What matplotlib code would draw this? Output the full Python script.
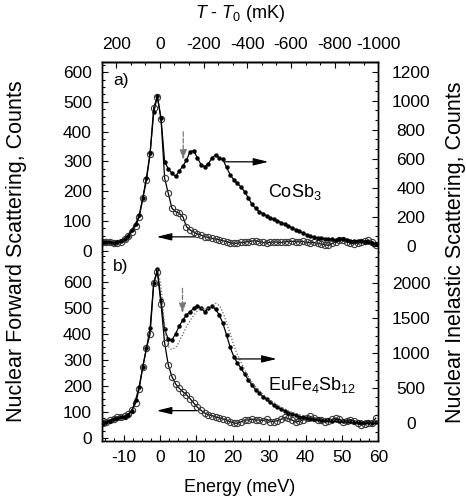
import matplotlib
matplotlib.use("Agg")
import matplotlib.pyplot as plt
from matplotlib.ticker import AutoMinorLocator

plt.rcParams['font.family'] = ['Liberation Sans', 'DejaVu Sans']
plt.rcParams['mathtext.fontset'] = 'custom'
plt.rcParams['mathtext.rm'] = 'Liberation Sans'
plt.rcParams['mathtext.it'] = 'Liberation Sans:italic'
plt.rcParams['axes.unicode_minus'] = False

# energy grid of the scan (meV)
energy = [-15.7, -14.7, -13.7, -12.7, -11.7, -10.7, -9.7, -8.7, -7.7, -6.7,
          -5.7, -4.7, -3.7, -2.7, -1.7, -0.7, 0.3, 1.3, 2.3, 3.3,
          4.3, 5.3, 6.3, 7.3, 8.3, 9.3, 10.3, 11.3, 12.3, 13.3,
          14.3, 15.3, 16.3, 17.3, 18.3, 19.3, 20.3, 21.3, 22.3, 23.3,
          24.3, 25.3, 26.3, 27.3, 28.3, 29.3, 30.3, 31.3, 32.3, 33.3,
          34.3, 35.3, 36.3, 37.3, 38.3, 39.3, 40.3, 41.3, 42.3, 43.3,
          44.3, 45.3, 46.3, 47.3, 48.3, 49.3, 50.3, 51.3, 52.3, 53.3,
          54.3, 55.3, 56.3, 57.3, 58.3, 59.3]

# a) CoSb3
cosb3_nfs = [30, 29, 28, 25, 25, 30, 38, 50, 62, 83,
             112, 175, 237, 324, 481, 517, 442, 243, 192, 142,
             131, 125, 114, 80, 69, 63, 55, 52, 47, 44,
             41, 38, 36, 33, 30, 26, 24, 25, 27, 28,
             30, 32, 33, 30, 27, 26, 27, 29, 28, 27,
             29, 30, 31, 30, 29, 31, 27, 26, 27, 24,
             22, 20, 17, 24, 30, 34, 36, 30, 25, 22,
             26, 30, 33, 35, 30, 18]
cosb3_nis = [28, 26, 24, 22, 24, 35, 50, 70, 110, 150,
             210, 330, 470, 640, 920, 1030, 880, 580, 530, 500,
             478, 515, 550, 590, 650, 655, 605, 560, 545, 565,
             605, 628, 605, 595, 540, 490, 455, 430, 405, 372,
             330, 285, 258, 235, 222, 205, 192, 182, 172, 160,
             148, 135, 124, 112, 100, 88, 76, 66, 58, 54,
             52, 50, 48, 44, 40, 44, 46, 38, 36, 35,
             34, 30, 28, 25, 22, 12]

# b) EuFe4Sb12
eufe_nfs = [55, 62, 68, 73, 78, 80, 82, 92, 105, 132,
            187, 273, 344, 398, 594, 638, 513, 363, 280, 235,
            207, 190, 177, 165, 150, 133, 117, 105, 95, 88,
            85, 79, 76, 72, 68, 61, 57, 55, 61, 68,
            68, 71, 68, 68, 66, 71, 62, 62, 66, 71,
            78, 74, 68, 60, 63, 68, 74, 82, 74, 68,
            68, 62, 64, 71, 74, 71, 62, 64, 68, 64,
            57, 48, 53, 57, 58, 75]
eufe_nis = [0, 20, 35, 55, 71, 85, 95, 120, 180, 330,
            523, 809, 1071, 1357, 2000, 2200, 1760, 1340, 1200, 1190,
            1276, 1390, 1476, 1547, 1594, 1643, 1676, 1643, 1594, 1643,
            1676, 1628, 1547, 1428, 1262, 1086, 952, 857, 786, 700,
            620, 545, 480, 430, 381, 343, 300, 262, 229, 200,
            176, 152, 133, 114, 95, 86, 71, 65, 60, 55,
            50, 45, 42, 38, 40, 35, 32, 30, 28, 25,
            20, 22, 15, 12, 10, 18]

# calculated spectrum (dotted)
calc_energy = [-0.7, 0.0, 0.5, 1.0, 1.5, 2.0, 2.5, 3.0, 3.5, 4.0, 4.6, 5.3, 6.0,
               7.3, 8.7, 10.1, 11.4, 12.8, 14.2, 15.4, 16.5, 17.6, 18.8, 20.0,
               21.1, 22.0, 23.0, 24.0, 25.0, 26.0, 28.0, 30.0, 32.0, 34.0,
               36.0, 38.0, 40.0, 42.0, 44.0, 46.0, 48.0, 50.0, 52.0, 54.0,
               56.0, 58.0, 60.0]
eufe_calc = [2200, 2050, 1860, 1550, 1300, 1150, 1080, 1060, 1060, 1075, 1100, 1170, 1238,
             1381, 1500, 1595, 1643, 1628, 1676, 1714, 1676, 1547, 1357, 1166,
             1000, 904, 790, 690, 610, 540, 430, 340, 270, 210,
             165, 130, 100, 80, 62, 50, 42, 35, 30, 26,
             22, 20, 18]

mk_ticks = [200, 0, -200, -400, -600, -800, -1000]
mev_per_mk = -0.06

fs = 12.5

fig = plt.figure(figsize=(4.66, 5.01), dpi=100)
ax_a = fig.add_axes([0.2182, 0.497, 0.5936, 0.3792])
ax_b = fig.add_axes([0.2182, 0.1204, 0.5936, 0.3766])
ax_a2 = ax_a.twinx()
ax_b2 = ax_b.twinx()

circ = dict(color='black', lw=0.9, marker='o', ms=4.5, mfc='none', mec='#3a3a3a', mew=0.8)
dots = dict(color='black', lw=0.9, marker='o', ms=2.2, mfc='black', mec='black')

ax_a.plot(energy, cosb3_nfs, **circ)
ax_a2.plot(energy, cosb3_nis, **dots)
ax_b.plot(energy, eufe_nfs, **circ)
ax_b2.plot(energy, eufe_nis, **dots)
ax_b2.plot(calc_energy, eufe_calc, color='#666666', lw=0.9, ls=(0, (1, 1.5)))

for ax in (ax_a, ax_b):
    ax.set_xlim(-16, 60)
ax_a.set_ylim(-5, 634)
ax_a2.set_ylim(-43, 1267)
ax_b.set_ylim(-11.5, 714)
ax_b2.set_ylim(-249, 2447)

ax_a.set_yticks([0, 100, 200, 300, 400, 500, 600])
ax_b.set_yticks([0, 100, 200, 300, 400, 500, 600])
ax_a2.set_yticks([0, 200, 400, 600, 800, 1000, 1200])
ax_b2.set_yticks([0, 500, 1000, 1500, 2000])
ax_b.set_xticks([-10, 0, 10, 20, 30, 40, 50, 60])

ax_a.yaxis.set_minor_locator(AutoMinorLocator(4))
ax_b.yaxis.set_minor_locator(AutoMinorLocator(4))
ax_a2.yaxis.set_minor_locator(AutoMinorLocator(3))
ax_b2.yaxis.set_minor_locator(AutoMinorLocator(4))
ax_b.xaxis.set_minor_locator(AutoMinorLocator(4))

for ax in (ax_a, ax_b, ax_a2, ax_b2):
    ax.tick_params(which='both', direction='in', labelsize=fs, width=0.8)
    ax.tick_params(which='major', length=4)
    ax.tick_params(which='minor', length=2.2)
    for s in ax.spines.values():
        s.set_linewidth(1.0)

ax_a.tick_params(axis='x', which='both', bottom=False, top=False, labelbottom=False)
ax_b.tick_params(axis='x', which='both', top=False, pad=7)
ax_a.tick_params(axis='y', which='both', right=False, pad=7)
ax_b.tick_params(axis='y', which='both', right=False, pad=7)
ax_a2.tick_params(axis='y', pad=23.5)
ax_b2.tick_params(axis='y', pad=23.5)
for ax in (ax_a2, ax_b2):
    plt.setp(ax.yaxis.get_majorticklabels(), ha='center')

for ax in (ax_a, ax_a2):
    ax.spines['bottom'].set_visible(False)
for ax in (ax_b, ax_b2):
    ax.spines['top'].set_visible(False)

# temperature scale on top
sec = ax_a.secondary_xaxis('top', functions=(lambda e: e / mev_per_mk, lambda t: t * mev_per_mk))
sec.set_xticks(mk_ticks)
sec.xaxis.set_minor_locator(AutoMinorLocator(3))
sec.tick_params(which='both', direction='in', labelsize=fs, pad=7, width=0.8)
sec.tick_params(which='major', length=4)
sec.tick_params(which='minor', length=2.2)
sec.spines['top'].set_linewidth(1.0)

# arrows pointing to the relevant axis
solid = dict(arrowstyle='-|>,head_length=0.9,head_width=0.22', color='black', lw=0.9,
             mutation_scale=10, shrinkA=0, shrinkB=0)
ax_a2.annotate('', xy=(29.8, 579), xytext=(17.9, 579), arrowprops=solid)
ax_a.annotate('', xy=(-0.9, 46), xytext=(9.6, 46), arrowprops=solid)
ax_b2.annotate('', xy=(32.1, 919), xytext=(20.6, 919), arrowprops=solid)
ax_b.annotate('', xy=(-0.9, 104), xytext=(10.1, 104), arrowprops=solid)

dashed = dict(arrowstyle='-|>,head_length=0.6,head_width=0.2', color='#777777', lw=0.9,
              ls='--', mutation_scale=10, shrinkA=0, shrinkB=0)
ax_a2.annotate('', xy=(6.4, 591), xytext=(6.4, 786), arrowprops=dashed)
ax_b2.annotate('', xy=(6.2, 1571), xytext=(6.2, 1929), arrowprops=dashed)

ax_a.text(0.042, 0.905, 'a)', transform=ax_a.transAxes, fontsize=fs, va='center')
ax_b.text(0.042, 0.922, 'b)', transform=ax_b.transAxes, fontsize=fs, va='center')
ax_a.text(0.602, 0.291, 'CoSb$_3$', transform=ax_a.transAxes, fontsize=13, va='baseline')
ax_b.text(0.601, 0.269, 'EuFe$_4$Sb$_{12}$', transform=ax_b.transAxes, fontsize=13, va='baseline')

fig.text(240 / 466, 1 - 488 / 501, 'Energy (meV)', ha='center', va='center', fontsize=13)
fig.text(240 / 466, 1 - 14 / 501, '$T$ - $T_0$ (mK)', ha='center', va='center', fontsize=13)
fig.text(17 / 466, 1 - 251 / 501, 'Nuclear Forward Scattering, Counts', rotation=90,
         ha='center', va='center', fontsize=15.5)
fig.text(455 / 466, 1 - 252 / 501, 'Nuclear Inelastic Scattering, Counts', rotation=90,
         ha='center', va='center', fontsize=15.5)

fig.savefig('out.png', dpi=100)
